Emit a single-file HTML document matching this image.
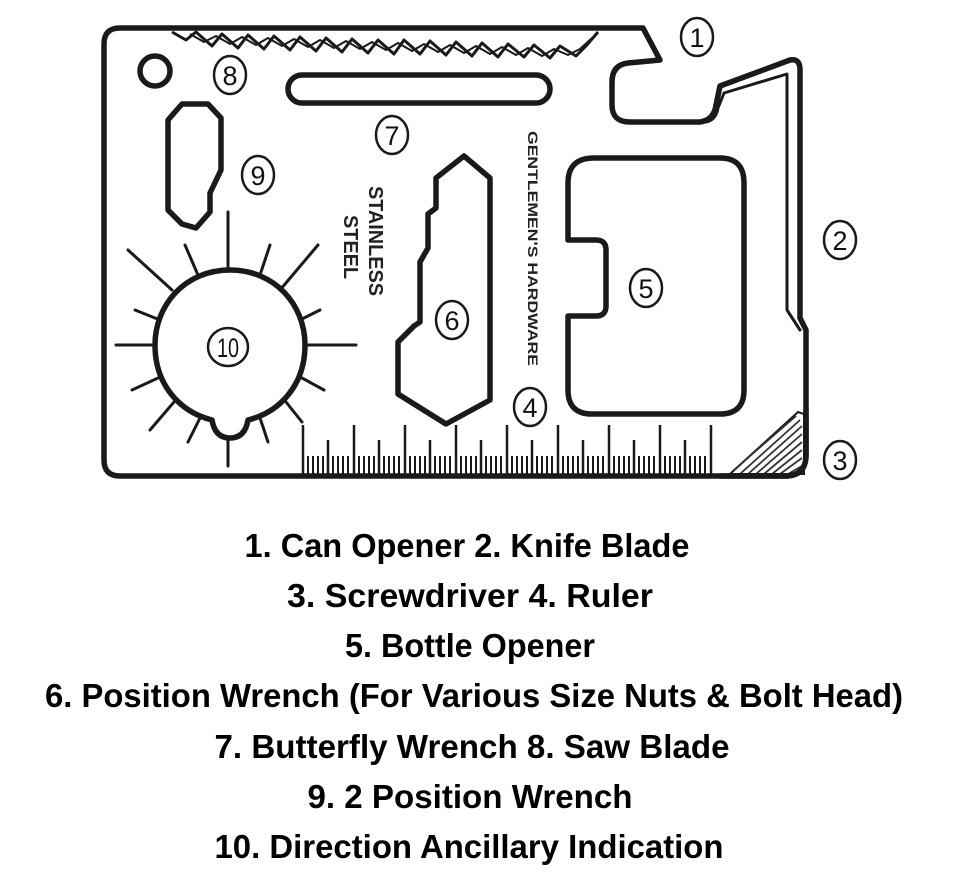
<!DOCTYPE html>
<html><head><meta charset="utf-8"><style>
html,body{margin:0;padding:0;background:#fff;width:960px;height:891px;overflow:hidden}
svg{display:block}
.num{font-family:"Liberation Sans Narrow","Liberation Sans",sans-serif;font-size:27px;fill:#111;text-anchor:middle}
.cap{font-family:"Liberation Sans",sans-serif;font-weight:bold;font-size:33px;fill:#000;text-anchor:middle}
</style></head><body>
<svg width="960" height="891" viewBox="0 0 960 891" xmlns="http://www.w3.org/2000/svg">
<g fill="none" stroke="#1a1a1a" stroke-width="5.5" stroke-linejoin="round" stroke-linecap="round">
<path d="M120 28 L643 28 L660 60 L628 63 Q612 65 612 82 L612 105 Q612 122 630 122 L700 122 Q714 120 716 105 L720 86 L790 60 Q800 58 800 70 L800 318 L806 330 L806 455 Q806 476 785 476 L120 476 Q104 476 104 460 L104 44 Q104 28 120 28 Z"/>
<path d="M706 122 Q716 120 718 108 L724 93 L787 74 L787 310 L800 330" stroke-width="3"/>
<circle cx="155" cy="71" r="15"/>
<rect x="288" y="75" width="262" height="28" rx="14"/>
<path d="M182 104 L208 104 L221 118 L221 170 L210 193 L210 212 L196 228 L182 224 L168 210 L168 120 Z"/>
<path d="M464 156 L490 178 L490 400 L446 424 L398 394 L398 342 L414 326 L420 322 L420 262 L428 248 L428 214 L436 208 L436 178 Z"/>
<path d="M594 158 L720 158 Q744 158 744 183 L744 390 Q744 414 720 414 L592 414 Q568 414 568 390 L568 316 L596 316 Q606 316 606 306 L606 250 Q606 240 596 240 L568 240 L568 183 Q568 158 594 158 Z"/>
<path d="M230 270 C275 270 305 305 305 345 C305 385 280 412 248 420 Q245 438 230 438 Q215 438 212 420 C180 412 155 385 155 345 C155 305 185 270 230 270 Z"/>
</g>
<polyline points="172,32 186,40 196,32 212,46 222,34 238,48 248,35 264,49 274,36 290,50 300,37 316,51 326,38 342,52 352,39 368,53 378,40 394,54 404,40 420,54 430,41 446,55 456,42 472,56 482,43 498,57 508,44 524,57 534,45 550,58 560,46 576,56 586,46 598,32" fill="none" stroke="#1a1a1a" stroke-width="3" stroke-linejoin="round"/>
<polyline points="190,34 204,42 216,36 230,44 242,37 256,45 268,38 282,46 294,39 308,47 320,40 334,48 346,41 360,49 372,42 386,50 398,43 412,51 424,44 438,52 450,45 464,53 476,46 490,54 502,47 516,55 528,48 542,56 554,49 568,55 580,49 592,38" fill="none" stroke="#1a1a1a" stroke-width="2" stroke-linejoin="round"/>
<g stroke="#1a1a1a" stroke-width="3" stroke-linecap="round">
<line x1="228" y1="212" x2="228" y2="270"/>
<line x1="128" y1="250" x2="172" y2="290"/>
<line x1="185" y1="245" x2="198" y2="275"/>
<line x1="260" y1="275" x2="270" y2="245"/>
<line x1="280" y1="290" x2="318" y2="245"/>
<line x1="135" y1="310" x2="160" y2="320"/>
<line x1="300" y1="320" x2="320" y2="310"/>
<line x1="116" y1="345" x2="155" y2="345"/>
<line x1="305" y1="345" x2="356" y2="345"/>
<line x1="132" y1="390" x2="158" y2="378"/>
<line x1="302" y1="378" x2="324" y2="390"/>
<line x1="150" y1="430" x2="174" y2="402"/>
<line x1="286" y1="402" x2="302" y2="422"/>
<line x1="188" y1="442" x2="200" y2="418"/>
<line x1="260" y1="418" x2="268" y2="442"/>
<line x1="228" y1="438" x2="228" y2="466"/>
</g>
<g stroke="#1a1a1a" stroke-width="2.5">
<line x1="303" y1="425" x2="303" y2="474"/><line x1="354" y1="425" x2="354" y2="474"/><line x1="405" y1="425" x2="405" y2="474"/><line x1="456" y1="425" x2="456" y2="474"/><line x1="507" y1="425" x2="507" y2="474"/><line x1="558" y1="425" x2="558" y2="474"/><line x1="609" y1="425" x2="609" y2="474"/><line x1="660" y1="425" x2="660" y2="474"/><line x1="711" y1="425" x2="711" y2="474"/>
<line x1="328" y1="440" x2="328" y2="474"/><line x1="379" y1="440" x2="379" y2="474"/><line x1="430" y1="440" x2="430" y2="474"/><line x1="481" y1="440" x2="481" y2="474"/><line x1="532" y1="440" x2="532" y2="474"/><line x1="583" y1="440" x2="583" y2="474"/><line x1="634" y1="440" x2="634" y2="474"/><line x1="685" y1="440" x2="685" y2="474"/>
</g>
<g stroke="#1a1a1a" stroke-width="2">
<path d="M308 456V474M313 456V474M318 456V474M323 456V474M333 456V474M338 456V474M343 456V474M348 456V474M359 456V474M364 456V474M369 456V474M374 456V474M384 456V474M389 456V474M394 456V474M399 456V474M410 456V474M415 456V474M420 456V474M425 456V474M435 456V474M440 456V474M445 456V474M450 456V474M461 456V474M466 456V474M471 456V474M476 456V474M486 456V474M491 456V474M496 456V474M501 456V474M512 456V474M517 456V474M522 456V474M527 456V474M537 456V474M542 456V474M547 456V474M552 456V474M563 456V474M568 456V474M573 456V474M578 456V474M588 456V474M593 456V474M598 456V474M603 456V474M614 456V474M619 456V474M624 456V474M629 456V474M639 456V474M644 456V474M649 456V474M654 456V474M665 456V474M670 456V474M675 456V474M680 456V474M690 456V474M695 456V474M700 456V474M705 456V474"/>
</g>
<path d="M730 474 L798 412 L804 414 L804 474 Z" fill="#fff" stroke="#1a1a1a" stroke-width="2"/>
<g stroke="#333" stroke-width="1.8">
<path d="M740 474L800 420M748 474L802 426M756 474L802 434M764 474L802 442M772 474L802 450M780 474L802 458M788 474L802 466M734 470L796 416"/>
</g>
<path d="M720 476 L785 476 Q806 476 806 455 L806 410" fill="none" stroke="#1a1a1a" stroke-width="5.5" stroke-linecap="round"/>
<text transform="translate(369,186) rotate(90)" font-family="Liberation Sans Narrow,Liberation Sans,sans-serif" font-weight="bold" font-size="20" fill="#222" textLength="110" lengthAdjust="spacingAndGlyphs">STAINLESS</text>
<text transform="translate(344,215) rotate(90)" font-family="Liberation Sans Narrow,Liberation Sans,sans-serif" font-weight="bold" font-size="20" fill="#222" textLength="64" lengthAdjust="spacingAndGlyphs">STEEL</text>
<text transform="translate(528,131) rotate(90)" font-family="Liberation Sans,sans-serif" font-weight="bold" font-size="14" fill="#222" textLength="235" lengthAdjust="spacingAndGlyphs">GENTLEMEN'S HARDWARE</text>
<g fill="#fff" stroke="#1a1a1a" stroke-width="2.5">
<ellipse cx="697" cy="37" rx="16" ry="19"/><ellipse cx="840" cy="240" rx="16" ry="19"/><ellipse cx="840" cy="460" rx="16" ry="19"/>
<ellipse cx="530" cy="407" rx="16" ry="19"/><ellipse cx="646" cy="288" rx="16" ry="19"/><ellipse cx="452" cy="320" rx="16" ry="19"/>
<ellipse cx="392" cy="135" rx="16" ry="19"/><ellipse cx="230" cy="75" rx="16" ry="19"/><ellipse cx="258" cy="175" rx="16" ry="19"/><ellipse cx="228" cy="347" rx="20" ry="19"/>
</g>
<g class="num">
<text x="697" y="47">1</text><text x="840" y="250">2</text><text x="840" y="470">3</text><text x="530" y="417">4</text><text x="646" y="298">5</text><text x="452" y="330">6</text><text x="392" y="145">7</text><text x="230" y="85">8</text><text x="258" y="185">9</text><text x="228" y="357" textLength="22" lengthAdjust="spacingAndGlyphs">10</text>
</g>
<text class="cap" x="467" y="557" textLength="445" lengthAdjust="spacingAndGlyphs">1. Can Opener  2. Knife Blade</text>
<text class="cap" x="470" y="607" textLength="366" lengthAdjust="spacingAndGlyphs">3. Screwdriver  4. Ruler</text>
<text class="cap" x="470" y="657" textLength="250" lengthAdjust="spacingAndGlyphs">5. Bottle Opener</text>
<text class="cap" x="474" y="707" textLength="858" lengthAdjust="spacingAndGlyphs">6. Position Wrench (For Various Size Nuts &amp; Bolt Head)</text>
<text class="cap" x="472" y="758" textLength="515" lengthAdjust="spacingAndGlyphs">7. Butterfly Wrench 8. Saw Blade</text>
<text class="cap" x="470" y="808" textLength="325" lengthAdjust="spacingAndGlyphs">9. 2 Position Wrench</text>
<text class="cap" x="469" y="858" textLength="509" lengthAdjust="spacingAndGlyphs">10. Direction Ancillary Indication</text>
</svg>
</body></html>
